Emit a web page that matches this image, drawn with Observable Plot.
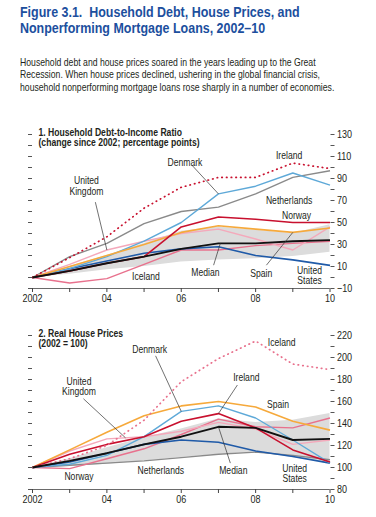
<!DOCTYPE html>
<html>
<head>
<meta charset="utf-8">
<script src="https://cdn.jsdelivr.net/npm/d3@7"></script>
<script src="https://cdn.jsdelivr.net/npm/@observablehq/plot@0.6"></script>
<style>
  html, body { margin: 0; padding: 0; background: #fff; }
  #wrap { position: relative; width: 376px; height: 517px; overflow: hidden;
          font-family: "Liberation Sans", Arial, sans-serif; }
  .title { position: absolute; left: 20px; color: #1c4f9e; white-space: nowrap;
           font-weight: bold; font-size: 14px; line-height: 16px;
           transform: scaleX(0.89); transform-origin: 0 0; }
  #t1 { top: 4px; }
  #t2 { top: 20px; }
  #subtitle { position: absolute; left: 20px; top: 57px; color: #231f20; white-space: nowrap;
              font-size: 10.2px; line-height: 12.3px;
              transform: scaleX(0.85); transform-origin: 0 0; }
  .panel { position: absolute; left: 0; }
  #p1 { top: 119px; }
  #p2 { top: 320px; }
</style>
</head>
<body>
<div id="wrap">
  <div id="t1" class="title">Figure 3.1.&nbsp; Household Debt, House Prices, and</div>
  <div id="t2" class="title">Nonperforming Mortgage Loans, 2002–10</div>
  <div id="subtitle">Household debt and house prices soared in the years leading up to the Great<br>Recession. When house prices declined, ushering in the global financial crisis,<br>household nonperforming mortgage loans rose sharply in a number of economies.</div>
  <div id="p1" class="panel"></div>
  <div id="p2" class="panel"></div>
</div>
<script>
// ---------- shared ----------
const years = [2002, 2003, 2004, 2005, 2006, 2007, 2008, 2009, 2010];
const xTickLabels = ["2002", "", "04", "", "06", "", "08", "", "10"];

// ---------- Panel 1: Household debt-to-income ratio (change since 2002, pp) ----------
const debtIreland     = [0, 18, 37, 63, 82, 91, 91, 104, 99];
const debtDenmark     = [0, 8, 19, 33, 50, 76, 83, 95, 84];
const debtNetherlands = [0, 19, 31, 49, 60, 64, 76, 91, 97];
const debtNorway      = [0, 6, 13, 19, 46, 55, 53, 50, 50];
const debtSpain       = [0, 10, 20, 30, 41, 47, 44, 41, 45];
const debtUK          = [0, 12, 25, 33, 40, 44, 35, 25, 46];
const debtIceland     = [0, -5, -1, 12, 25, 25, 29, 31, 33];
const debtUS          = [0, 8, 15, 22, 26, 28, 20, 16, 11];
const debtMedian      = [0, 6, 13, 19, 26, 31, 31, 33, 34];
const debtBandHigh    = [0, 10, 20, 31, 42, 46, 43, 40, 48];
const debtBandLow     = [0, 3, 7, 10, 14, 16, 17, 19, 23];
const debtTicks       = [-10, 0, 10, 20, 30, 40, 50, 60, 70, 80, 90, 100, 110, 120, 130];
const debtTickLabels  = ["−10", "", "10", "", "30", "", "50", "", "70", "", "90", "", "110", "", "130"];

// ---------- Panel 2: Real house prices (2002 = 100) ----------
const hpIceland     = [100, 108, 120, 143, 178, 199, 215, 194, 189];
const hpSpain       = [100, 116, 132, 147, 156, 160, 155, 142, 134];
const hpDenmark     = [100, 103, 111, 128, 151, 156, 145, 125, 104];
const hpIreland     = [100, 112, 121, 128, 142, 149, 136, 116, 105];
const hpUK          = [100, 115, 126, 128, 133, 141, 135, 121, 125];
const hpNorway      = [100, 99, 108, 117, 130, 144, 137, 136, 145];
const hpNetherlands = [100, 102, 104, 106, 109, 112, 114, 111, 107];
const hpUS          = [100, 105, 113, 121, 125, 123, 115, 110, 104];
const hpMedian      = [100, 106, 113, 121, 128, 137, 136, 125, 126];
const hpBandHigh    = [100, 108, 118, 127, 135, 144, 141, 143, 149];
const hpBandLow     = [100, 101, 103, 106, 109, 112, 114, 109, 104];
const hpTicks       = [80, 90, 100, 110, 120, 130, 140, 150, 160, 170, 180, 190, 200, 210, 220];
const hpTickLabels  = ["80", "", "100", "", "120", "", "140", "", "160", "", "180", "", "200", "", "220"];

// ---------- styles ----------
const FONT = '"Liberation Sans", Arial, sans-serif';
const NARROW = 0.82; // horizontal squeeze to mimic a condensed face
const C = {
  crimson: "#c8102e", rose: "#e8718d", pink: "#f4a9bb", lightblue: "#5ea9d8",
  gray: "#8a8a8a", orange: "#f6a93b", blue: "#1f5aa8", black: "#111111", band: "#dcdcdc", dotted: "#c8102e"
};

function series(name, values) {
  return years.map((year, i) => ({name, year, value: values[i]}));
}

function condense(svg) {
  svg.querySelectorAll("text").forEach(t => {
    const tr = t.getAttribute("transform") || "";
    t.setAttribute("transform", (tr + ` scale(${NARROW},1)`).trim());
  });
  return svg;
}

function panel({lines, bandHigh, bandLow, domain, ticks, tickLabels, title, labels, pointers}) {
  const band = years.map((year, i) => ({year, lo: bandLow[i], hi: bandHigh[i]}));
  const lineMarks = lines.map(s => Plot.line(s.rows, {
    x: "year", y: "value", stroke: s.color, strokeWidth: s.width || 1.4,
    strokeDasharray: s.dash || null, strokeLinecap: s.dash ? "round" : "butt",
    strokeLinejoin: "round"
  }));
  const labelMap = new Map(ticks.map((t, i) => [t, tickLabels[i]]));
  const xLabelMap = new Map(years.map((t, i) => [t, xTickLabels[i]]));
  return condense(Plot.plot({
    width: 376, height: 191,
    marginTop: 15, marginBottom: 22, marginLeft: 32, marginRight: 46.5,
    x: {domain: [2002, 2010]},
    y: {domain},
    style: {fontFamily: FONT, fontSize: "10.5px", color: "#231f20", background: "transparent", overflow: "visible"},
    marks: [
      Plot.areaY(band, {x: "year", y1: "lo", y2: "hi", fill: C.band}),
      ...lineMarks,
      Plot.ruleY([domain[0]], {stroke: "#444", strokeWidth: 0.8}),
      Plot.axisX({ticks: years, tickSize: 4, tickPadding: 2, tickFormat: d => xLabelMap.get(d),
                  fontSize: 11, label: null, stroke: "#444"}),
      Plot.axisY({anchor: "left", ticks, tickSize: 4, tickFormat: () => "", label: null, stroke: "#555"}),
      Plot.axisY({anchor: "right", ticks, tickSize: 4, tickPadding: 3, fontSize: 11,
                  tickFormat: d => labelMap.get(d), label: null, stroke: "#555"}),
      Plot.link(pointers, {x1: "x1", y1: "y1", x2: "x2", y2: "y2", stroke: "#333", strokeWidth: 0.7}),
      Plot.text(labels, {x: "x", y: "y", text: "text", lineHeight: 1.0, fontSize: 10.5, fill: "#231f20"}),
      Plot.text([title], {frameAnchor: "top-left", dx: 6, dy: -6, lineAnchor: "top", textAnchor: "start",
                          fontWeight: "bold", fontSize: 10.5, lineHeight: 1.0, fill: "#231f20"})
    ]
  }));
}

// ---------- Panel 1 ----------
const p1 = panel({
  domain: [-10, 130], ticks: debtTicks, tickLabels: debtTickLabels,
  bandHigh: debtBandHigh, bandLow: debtBandLow,
  title: "1. Household Debt-to-Income Ratio\n(change since 2002; percentage points)",
  lines: [
    {rows: series("Netherlands", debtNetherlands), color: C.gray},
    {rows: series("Iceland", debtIceland), color: C.rose},
    {rows: series("United Kingdom", debtUK), color: C.pink},
    {rows: series("United States", debtUS), color: C.blue, width: 1.6},
    {rows: series("Denmark", debtDenmark), color: C.lightblue},
    {rows: series("Spain", debtSpain), color: C.orange, width: 1.6},
    {rows: series("Norway", debtNorway), color: C.crimson, width: 1.6},
    {rows: series("Ireland", debtIreland), color: C.dotted, width: 1.7, dash: "0.5,4.2"},
    {rows: series("Median", debtMedian), color: C.black, width: 1.9}
  ],
  labels: [
    {x: 2006.1, y: 104.5, text: "Denmark"},
    {x: 2008.9, y: 111, text: "Ireland"},
    {x: 2003.45, y: 83, text: "United\nKingdom"},
    {x: 2008.9, y: 70, text: "Netherlands"},
    {x: 2009.1, y: 56.5, text: "Norway"},
    {x: 2005.05, y: 0.5, text: "Iceland"},
    {x: 2006.65, y: 4.2, text: "Median"},
    {x: 2008.15, y: 3.9, text: "Spain"},
    {x: 2009.45, y: 1.6, text: "United\nStates"}
  ],
  pointers: [
    {x1: 2006.29, y1: 102, x2: 2007, y2: 76},
    {x1: 2003.69, y1: 68.5, x2: 2004, y2: 25},
    {x1: 2006.87, y1: 11.2, x2: 2007.05, y2: 31},
    {x1: 2008.29, y1: 11.2, x2: 2009.0, y2: 41}
  ]
});
document.getElementById("p1").appendChild(p1);

// ---------- Panel 2 ----------
const p2 = panel({
  domain: [80, 220], ticks: hpTicks, tickLabels: hpTickLabels,
  bandHigh: hpBandHigh, bandLow: hpBandLow,
  title: "2. Real House Prices\n(2002 = 100)",
  lines: [
    {rows: series("Netherlands", hpNetherlands), color: C.gray},
    {rows: series("Norway", hpNorway), color: C.rose},
    {rows: series("United Kingdom", hpUK), color: C.pink},
    {rows: series("United States", hpUS), color: C.blue, width: 1.6},
    {rows: series("Denmark", hpDenmark), color: C.lightblue},
    {rows: series("Spain", hpSpain), color: C.orange, width: 1.6},
    {rows: series("Ireland", hpIreland), color: C.crimson, width: 1.6},
    {rows: series("Iceland", hpIceland), color: C.rose, width: 1.7, dash: "0.5,4.2"},
    {rows: series("Median", hpMedian), color: C.black, width: 1.9}
  ],
  labels: [
    {x: 2005.15, y: 207, text: "Denmark"},
    {x: 2008.7, y: 213.5, text: "Iceland"},
    {x: 2007.75, y: 181.5, text: "Ireland"},
    {x: 2003.25, y: 173.5, text: "United\nKingdom"},
    {x: 2008.6, y: 157, text: "Spain"},
    {x: 2003.25, y: 91.5, text: "Norway"},
    {x: 2005.45, y: 97, text: "Netherlands"},
    {x: 2007.4, y: 97, text: "Median"},
    {x: 2009.05, y: 94.5, text: "United\nStates"}
  ],
  pointers: [
    {x1: 2005.31, y1: 201.5, x2: 2006, y2: 151},
    {x1: 2007.51, y1: 175, x2: 2007, y2: 149},
    {x1: 2003.37, y1: 162.5, x2: 2004.5, y2: 127},
    {x1: 2007.32, y1: 104, x2: 2007, y2: 137}
  ]
});
document.getElementById("p2").appendChild(p2);
</script>
</body>
</html>
